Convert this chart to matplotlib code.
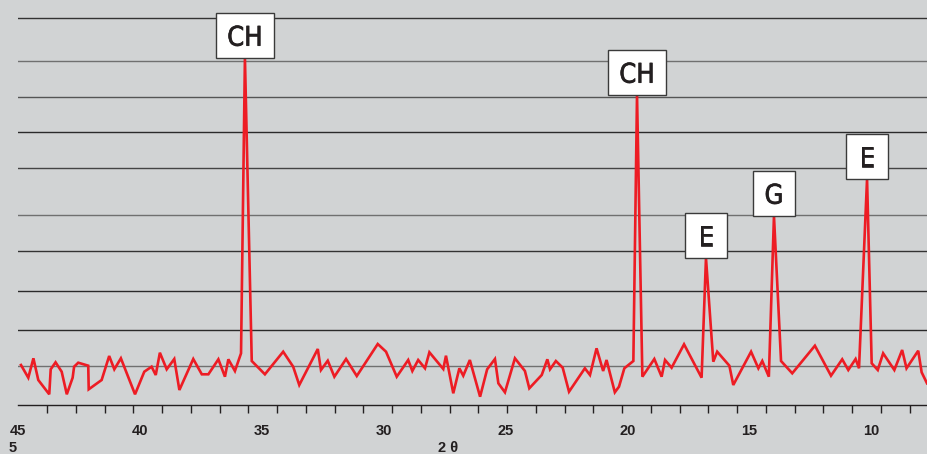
import numpy as np
import matplotlib
matplotlib.use("Agg")
import matplotlib.pyplot as plt
import matplotlib.patheffects as pe
from matplotlib.patches import Rectangle

# ---- data ----
two_theta = [44.89, 44.59, 44.38, 44.18, 43.73, 43.67, 43.47, 43.22, 43.01, 42.77,
             42.71, 42.54, 42.13, 42.11, 41.58, 41.27, 41.06, 40.79, 40.21, 39.83,
             39.53, 39.36, 39.19, 38.91, 38.60, 38.39, 37.82, 37.47, 37.20, 36.79,
             36.52, 36.38, 36.11, 35.86, 35.70, 35.42, 34.88, 34.13, 33.72, 33.47,
             32.71, 32.58, 32.30, 32.03, 31.55, 31.11, 30.25, 29.91, 29.47, 29.00,
             28.83, 28.59, 28.31, 28.13, 27.56, 27.45, 27.15, 26.90, 26.74, 26.47,
             26.05, 25.76, 25.44, 25.30, 25.03, 24.62, 24.21, 24.03, 23.52, 23.29,
             23.18, 22.94, 22.66, 22.40, 21.75, 21.54, 21.27, 21.00, 20.86, 20.52,
             20.35, 20.13, 19.76, 19.61, 19.39, 18.90, 18.60, 18.46, 18.19, 17.68,
             16.96, 16.78, 16.48, 16.32, 15.82, 15.66, 14.93, 14.63, 14.47, 14.20,
             13.99, 13.70, 13.24, 12.31, 11.65, 11.19, 10.94, 10.64, 10.50, 10.17,
             9.98, 9.73, 9.51, 9.05, 8.73, 8.55, 8.07, 7.93, 7.71]
intensity = [40, 27.3, 46.7, 25, 10.7, 35.7, 42.7, 33.3, 10.7, 27.3,
             38.3, 42.3, 39.3, 15.7, 25, 49, 35.7, 46.7, 10.7, 33.3,
             38.3, 30, 52.3, 35.7, 46, 15, 46, 30.7, 30.7, 45.7,
             28.3, 45.7, 34, 51.7, 347, 44, 30.7, 53.3, 38.3, 20,
             56, 35, 44.3, 28.3, 46, 29, 61, 53.3, 28.3, 45,
             34, 45, 36.7, 52.7, 36, 49.3, 11.7, 36.7, 29.3, 45,
             8.3, 35.7, 46, 21.7, 12.7, 46.7, 34, 16.7, 30, 45.7,
             35.7, 44, 37.3, 13.3, 36.7, 30, 56.7, 34, 45, 12.7,
             18.3, 36.7, 44, 310, 28.3, 46, 28.3, 45, 37.3, 60.7,
             27.3, 147, 43.3, 53.3, 39.3, 20, 53.3, 36.7, 44, 28.3,
             189, 44, 31.7, 59.3, 29.3, 45.7, 35, 46, 36.7, 226,
             41.7, 35, 51.7, 35, 55, 36.7, 54.3, 32.7, 21.7]

peak_labels = ["CH", "CH", "E", "G", "E"]
peak_two_theta = [35.70, 19.61, 16.78, 13.99, 10.17]

xtick_values = [45, 40, 35, 30, 25, 20, 15, 10]
xtick_labels = ["45", "40", "35", "30", "25", "20", "15", "10"]
grid_levels = [387, 344, 308, 273, 237, 190, 154, 114, 75, 39]
x_title = "2 θ"

# ---- style ----
BG = "#d1d3d4"
RED = "#ed1c24"
DARK = "#231f20"
grid_colors = ["#333333", "#707070", "#555555", "#2a2a2a", "#444444",
               "#707070", "#333333", "#2a2a2a", "#2a2a2a", "#707070"]

W, H = 927, 454
fig = plt.figure(figsize=(W / 100, H / 100), dpi=100)
fig.patch.set_facecolor(BG)
ax = fig.add_axes([18.3 / W, 49 / H, 908.7 / W, 405 / H])
ax.set_facecolor(BG)
ax.set_xlim(45, 7.71)
ax.set_ylim(0, 405)

for lvl, c in zip(grid_levels, grid_colors):
    ax.axhline(lvl, color=c, lw=1.0, zorder=1)

ax.plot(two_theta, intensity, color=RED, lw=1.9, zorder=3, solid_joinstyle="miter")

# labelled peak boxes
box_h = 45
for lab, p in zip(peak_labels, peak_two_theta):
    h = float(np.interp(p, two_theta[::-1], intensity[::-1]))
    bw = 2.38 if len(lab) > 1 else 1.72
    ax.add_patch(Rectangle((p - bw / 2, h), bw, box_h, facecolor="white",
                           edgecolor="#3a3a3a", lw=1.0, zorder=5, clip_on=False))
    ax.text(p, h + 12.3, lab, ha="center", va="baseline", fontsize=19.5,
            family=["Liberation Sans Narrow", "DejaVu Sans"],
            fontstretch="condensed", color=DARK, zorder=6,
            path_effects=[pe.withStroke(linewidth=0.5, foreground=DARK)])

for s in ["top", "left", "right"]:
    ax.spines[s].set_visible(False)
ax.spines["bottom"].set_color(DARK)
ax.spines["bottom"].set_linewidth(1.0)
ax.set_yticks([])

ax.set_xticks(xtick_values)
ax.set_xticklabels(xtick_labels, fontsize=10.5, fontweight="bold",
                   family="Liberation Sans", color=DARK)
ax.tick_params(axis="x", which="major", length=0, pad=13.5)
ax.set_xticks(np.arange(45, 7.7, -1.18), minor=True)
ax.tick_params(axis="x", which="minor", length=5.8, width=1.0, direction="out",
               color=DARK)

fig.text(448 / W, 1 - 448 / H, x_title, ha="center", va="center", fontsize=10.5,
         fontweight="bold", family="Liberation Sans", color=DARK)
fig.text(13 / W, 1 - 448 / H, "5", ha="center", va="center", fontsize=10.5,
         fontweight="bold", family="Liberation Sans", color=DARK)

fig.savefig("out.png", dpi=100, facecolor=BG)
